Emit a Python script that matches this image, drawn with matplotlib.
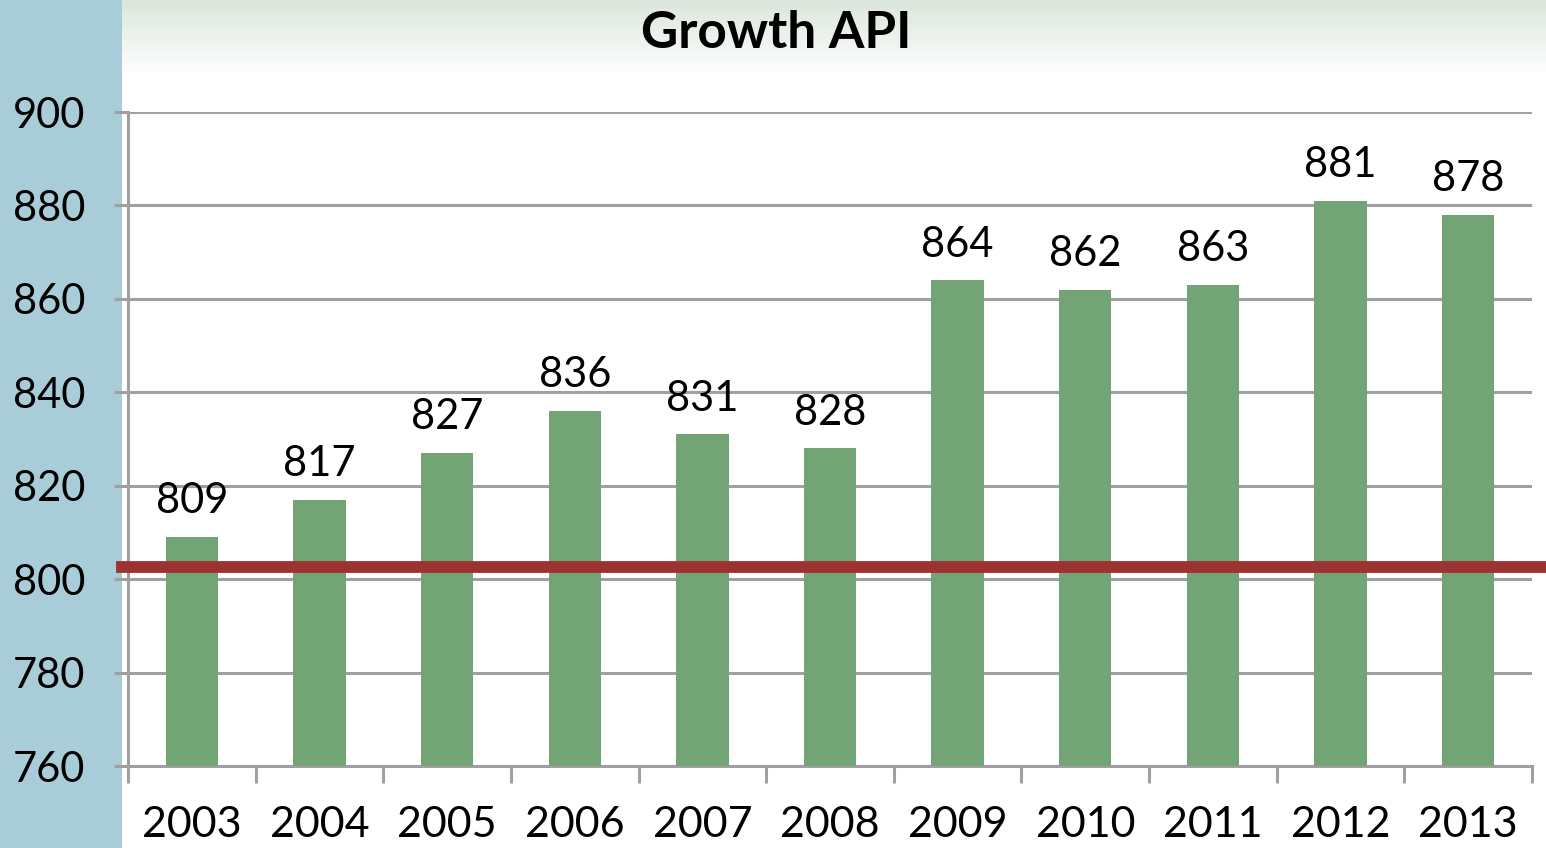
import matplotlib.pyplot as plt
import numpy as np

# Data
years = ['2003', '2004', '2005', '2006', '2007', '2008',
         '2009', '2010', '2011', '2012', '2013']
api = [809, 817, 827, 836, 831, 828, 864, 862, 863, 881, 878]
target = 802.5

plt.rcParams['font.family'] = ['Lato', 'DejaVu Sans']

fig = plt.figure(figsize=(15.46, 8.48), dpi=100)

# background: blue band on the left, gradient at the top
bg = fig.add_axes([0, 0, 1, 1], zorder=-10)
bg.set_xlim(0, 1546)
bg.set_ylim(848, 0)
bg.axis('off')
grad = np.linspace(0, 1, 100).reshape(-1, 1)
top = np.array([0.86, 0.90, 0.86])
white = np.array([1.0, 1.0, 1.0])
img = top + (white - top) * np.clip(grad, 0, 1)[..., None] * np.ones((1, 1, 3))
bg.imshow(img, extent=[122, 1546, 75, 0], aspect='auto')
bg.add_patch(plt.Rectangle((0, 0), 122, 848, color='#A8CDD8', lw=0))

ax = fig.add_axes([128 / 1546, 1 - 766 / 848, 1404 / 1546, 654 / 848])
ax.patch.set_alpha(0)

x = np.arange(len(years))
ax.bar(x, api, width=0.41, color='#72A476', bottom=0, zorder=3)
ax.set_ylim(760, 900)
ax.set_xlim(-0.5, len(years) - 0.5)

ax.set_yticks(range(760, 901, 20))
ax.yaxis.grid(True, color='#A0A0A0', lw=2.2, zorder=0)
ax.set_axisbelow(True)
ax.tick_params(axis='y', length=10, width=2.2, color='#A0A0A0',
               labelsize=30, pad=21)

# x ticks at category boundaries, labels at centers
ax.set_xticks(np.arange(-0.5, len(years), 1))
ax.set_xticklabels([])
ax.set_xticks(x, minor=True)
ax.set_xticklabels(years, minor=True, fontsize=31)
ax.tick_params(axis='x', which='major', length=12, width=2.2, color='#A0A0A0')
ax.tick_params(axis='x', which='minor', length=0, pad=29)

for s in ['top', 'right']:
    ax.spines[s].set_visible(False)
for s in ['left', 'bottom']:
    ax.spines[s].set_color('#A0A0A0')
    ax.spines[s].set_linewidth(2.2)

for xi, v in zip(x, api):
    ax.annotate(str(v), (xi, v), xytext=(0, 12), textcoords='offset points',
                ha='center', va='bottom', fontsize=30)

ax.axhline(target, xmin=-6 / 1404, xmax=1418 / 1404, color='#9E3232',
           lw=8.5, clip_on=False, zorder=4)

fig.text(776 / 1546, 1 - 33 / 848, 'Growth API', ha='center', va='center',
         fontsize=37, fontweight='bold')

fig.savefig('out.png', dpi=100)
